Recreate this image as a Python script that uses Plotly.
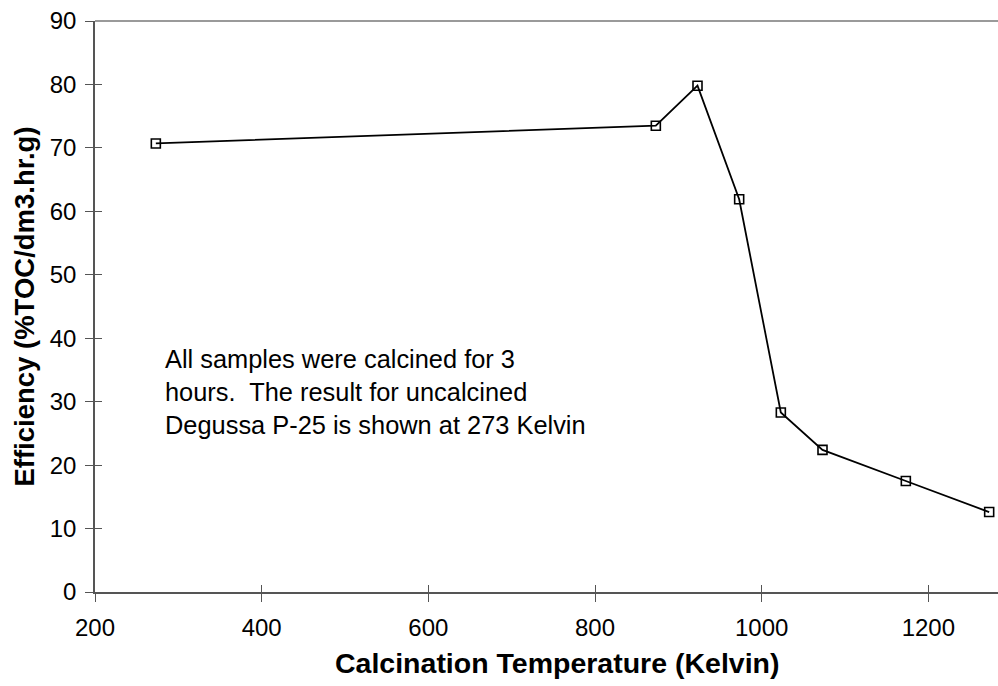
import plotly.graph_objects as go

temperature_k = [273, 873, 923, 973, 1023, 1073, 1173, 1273]
efficiency = [70.7, 73.5, 79.8, 61.9, 28.3, 22.4, 17.5, 12.6]

x_ticks = [200, 400, 600, 800, 1000, 1200]
y_ticks = [0, 10, 20, 30, 40, 50, 60, 70, 80, 90]

x_title = "<b>Calcination Temperature (Kelvin)</b>"
y_title = "<b>Efficiency (%TOC/dm3.hr.g)</b>"
note = ("All samples were calcined for 3<br>"
        "hours.&nbsp; The result for uncalcined<br>"
        "Degussa P-25 is shown at 273 Kelvin")

FONT = "Liberation Sans, Arial, Helvetica, sans-serif"
x_range = [200, 1283.6]
y_range = [0, 90]

fig = go.Figure()
fig.add_trace(go.Scatter(
    x=temperature_k, y=efficiency, mode="lines+markers",
    line=dict(color="black", width=1.8),
    marker=dict(symbol="square-open", size=9, color="black", line=dict(width=1.6)),
    showlegend=False, hoverinfo="x+y",
))

axis_common = dict(
    showgrid=False, zeroline=False, showline=True,
    linecolor="#555555", linewidth=1.5,
    ticks="outside", ticklen=8, tickwidth=1.2, tickcolor="#555555",
    tickfont=dict(family=FONT, size=24, color="black"),
)

fig.update_layout(
    width=998, height=686,
    margin=dict(l=95, r=0, t=21, b=94),
    paper_bgcolor="white", plot_bgcolor="white",
    xaxis=dict(range=x_range, tickmode="array", tickvals=x_ticks,
               ticklabelstandoff=5,
               **axis_common),
    yaxis=dict(range=y_range, tickmode="array", tickvals=y_ticks,
               title=dict(text=y_title, font=dict(family=FONT, size=27.5, color="black"), standoff=7),
               ticklabelstandoff=4,
               **axis_common),
    xaxis2=dict(overlaying="x", matches="x", range=x_range, anchor="y2",
                tickmode="array", tickvals=x_ticks, showticklabels=False,
                ticks="inside", ticklen=7, tickwidth=1.2, tickcolor="#555555",
                showgrid=False, zeroline=False, showline=False),
    yaxis2=dict(overlaying="y", matches="y", range=y_range, anchor="x2",
                tickmode="array", tickvals=y_ticks, showticklabels=False,
                ticks="inside", ticklen=7, tickwidth=1.2, tickcolor="#555555",
                showgrid=False, zeroline=False, showline=False),
    shapes=[dict(type="line", xref="paper", yref="paper", x0=0, x1=1, y0=1, y1=1,
                 line=dict(color="#9a9a9a", width=2))],
    annotations=[
        dict(text=note, xref="x", yref="y", x=281, y=39.3,
             xanchor="left", yanchor="top", showarrow=False, align="left",
             font=dict(family=FONT, size=25.4, color="black")),
        dict(text=x_title, xref="paper", yref="paper", x=0.5113, y=-0.125,
             xanchor="center", yanchor="middle", showarrow=False,
             font=dict(family=FONT, size=28.5, color="black")),
    ],
)
fig.add_trace(go.Scatter(x=[], y=[], xaxis="x2", yaxis="y2", showlegend=False))

fig.write_html("out.html")
